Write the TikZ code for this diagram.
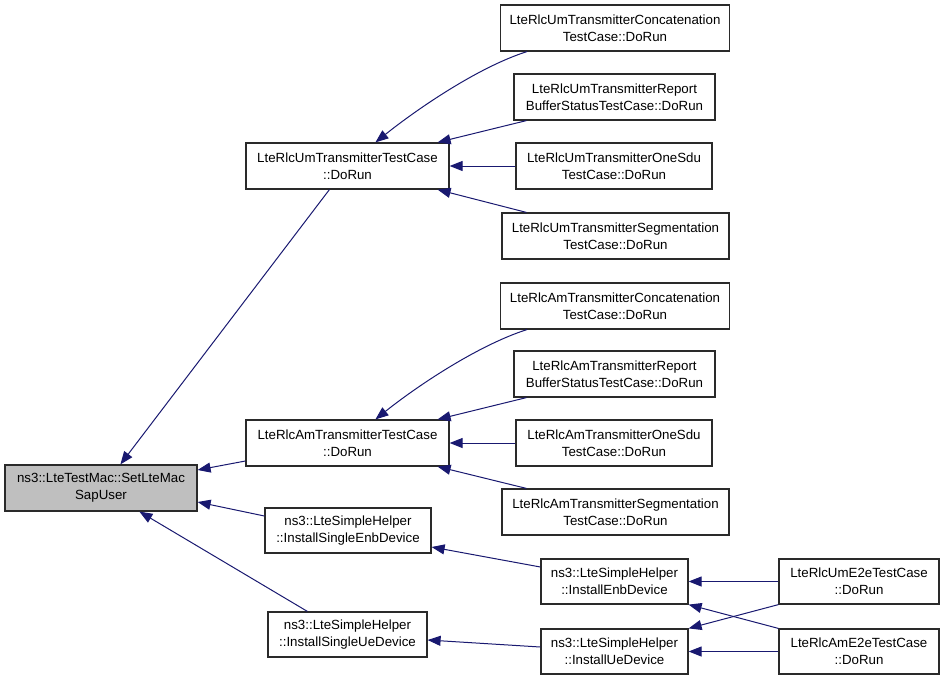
\documentclass[tikz,border=0pt]{standalone}
\usepackage{fontspec}
\setmainfont{Liberation Sans}
\usetikzlibrary{arrows.meta,calc}
\definecolor{edgeblue}{HTML}{191970}
\definecolor{rootgray}{HTML}{BFBFBF}
\definecolor{boxline}{HTML}{2A2A2A}
\tikzset{
  box/.style={draw=boxline, line width=1.2pt, fill=white, align=center, inner sep=0pt,
    minimum height=46pt, font=\fontsize{13.3}{17}\selectfont},
  rootbox/.style={box, fill=rootgray},
  arr/.style={draw=edgeblue, line width=1pt, -{Triangle[length=13pt,width=10pt]}},
}
\begin{document}
\begin{tikzpicture}[x=1pt,y=-1pt]
\useasboundingbox (0,0) rectangle (947,680);
% nodes
\node[rootbox, minimum width=192pt] (root) at (101,488) {ns3::LteTestMac::SetLteMac\\SapUser};
\node[box, minimum width=203pt] (UmTC) at (347.5,166) {LteRlcUmTransmitterTestCase\\::DoRun};
\node[box, minimum width=203pt] (AmTC) at (347.5,443) {LteRlcAmTransmitterTestCase\\::DoRun};
\node[box, minimum width=166pt, minimum height=45pt] (SEnb) at (348,530.5) {ns3::LteSimpleHelper\\::InstallSingleEnbDevice};
\node[box, minimum width=159pt, minimum height=45pt] (SUe) at (347.5,634.5) {ns3::LteSimpleHelper\\::InstallSingleUeDevice};
\node[box, minimum width=229pt] (UmConcat) at (615,28) {LteRlcUmTransmitterConcatenation\\TestCase::DoRun};
\node[box, minimum width=201pt] (UmReport) at (614.5,97) {LteRlcUmTransmitterReport\\BufferStatusTestCase::DoRun};
\node[box, minimum width=196pt] (UmOne) at (614,166) {LteRlcUmTransmitterOneSdu\\TestCase::DoRun};
\node[box, minimum width=227pt] (UmSeg) at (615.5,236) {LteRlcUmTransmitterSegmentation\\TestCase::DoRun};
\node[box, minimum width=229pt] (AmConcat) at (615,306) {LteRlcAmTransmitterConcatenation\\TestCase::DoRun};
\node[box, minimum width=201pt] (AmReport) at (614.5,374) {LteRlcAmTransmitterReport\\BufferStatusTestCase::DoRun};
\node[box, minimum width=196pt] (AmOne) at (614,443) {LteRlcAmTransmitterOneSdu\\TestCase::DoRun};
\node[box, minimum width=227pt] (AmSeg) at (615.5,512) {LteRlcAmTransmitterSegmentation\\TestCase::DoRun};
\node[box, minimum width=147pt, minimum height=45pt] (Enb) at (614.5,581.5) {ns3::LteSimpleHelper\\::InstallEnbDevice};
\node[box, minimum width=147pt, minimum height=45pt] (Ue) at (614.5,651.5) {ns3::LteSimpleHelper\\::InstallUeDevice};
\node[box, minimum width=160pt, minimum height=45pt] (UmE2e) at (859,581.5) {LteRlcUmE2eTestCase\\::DoRun};
\node[box, minimum width=160pt, minimum height=45pt] (AmE2e) at (859,651.5) {LteRlcAmE2eTestCase\\::DoRun};
% edges into root
\draw[arr] ($(UmTC.south west)+(84,0)$) -- ($(root.north west)+(116,0)$);
\draw[arr] ($(AmTC.west)+(0,18)$) -- ($(root.east)+(0,-18)$);
\draw[arr] ($(SEnb.west)+(0,-14.5)$) -- ($(root.east)+(0,14)$);
\draw[arr] ($(SUe.north west)+(40,0)$) -- ($(root.south west)+(135,0)$);
% Um group
\draw[arr] ($(UmConcat.south west)+(27,0)$) .. controls +(-50,16) and +(40,-32) .. ($(UmTC.north west)+(130,0)$);
\draw[arr] ($(UmReport.south west)+(13,0)$) -- ($(UmTC.north east)+(-12,0)$);
\draw[arr] (UmOne.west) -- (UmTC.east);
\draw[arr] ($(UmSeg.north west)+(25,0)$) -- ($(UmTC.south east)+(-12,0)$);
% Am group
\draw[arr] ($(AmConcat.south west)+(27,0)$) .. controls +(-50,16) and +(40,-32) .. ($(AmTC.north west)+(130,0)$);
\draw[arr] ($(AmReport.south west)+(13,0)$) -- ($(AmTC.north east)+(-12,0)$);
\draw[arr] (AmOne.west) -- (AmTC.east);
\draw[arr] ($(AmSeg.north west)+(25,0)$) -- ($(AmTC.south east)+(-12,0)$);
% helpers
\draw[arr] ($(Enb.west)+(0,-14.5)$) -- ($(SEnb.east)+(0,16.5)$);
\draw[arr] ($(Ue.west)+(0,-4.5)$) -- ($(SUe.east)+(0,5.5)$);
\draw[arr] (UmE2e.west) -- (Enb.east);
\draw[arr] (AmE2e.north west) -- (Enb.south east);
\draw[arr] (UmE2e.south west) -- (Ue.north east);
\draw[arr] (AmE2e.west) -- (Ue.east);
\end{tikzpicture}
\end{document}
